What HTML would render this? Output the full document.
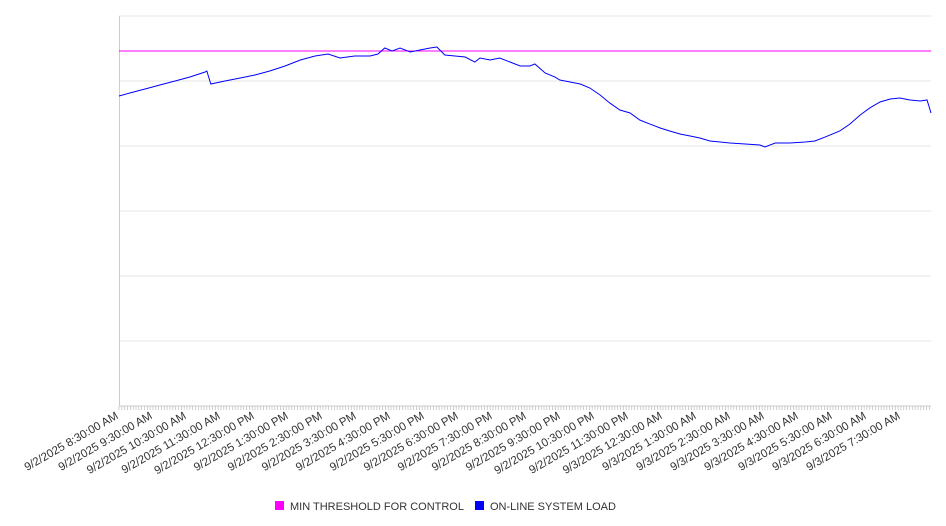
<!DOCTYPE html>
<html><head><meta charset="utf-8"><style>
body{margin:0;background:#fff;font-family:"Liberation Sans","DejaVu Sans",sans-serif}
</style></head><body>
<svg id="chart" width="946" height="526" style="display:block">
<g id="grid"></g><g id="ticks"></g><g id="labels"></g><g id="series"></g>
<g font-size="11" fill="#333">
 <g><rect x="275" y="501" width="9" height="9" fill="#ff00ff"/><text x="290" y="510">MIN THRESHOLD FOR CONTROL</text></g>
 <g><rect x="475" y="501" width="9" height="9" fill="#0000ff"/><text x="490" y="510">ON-LINE SYSTEM LOAD</text></g>
</g>
</svg>
<script>
const times=[0,19,46,72,99,125,152,155,162,187,214,240,266,293,320,346,369,390,416,443,457,469,482,496,514,531,549,561,575,593,611,628,637,655,672,690,708,725,734,752,769,778,796,814,831,849,866,884,902,919,937,955,972,990,1008,1025,1043,1061,1078,1105,1131,1140,1158,1184,1211,1228,1246,1272,1290,1308,1325,1343,1361,1378,1396,1414,1426,1433];
const loadValues=[4769,4815,4877,4938,5000,5062,5138,5154,4954,5000,5046,5092,5154,5231,5323,5385,5415,5354,5385,5385,5415,5508,5462,5508,5446,5477,5508,5523,5400,5385,5369,5292,5354,5323,5354,5292,5231,5231,5262,5123,5062,5015,4985,4954,4892,4785,4662,4554,4508,4400,4338,4277,4231,4185,4154,4123,4077,4062,4046,4031,4015,3985,4046,4046,4062,4077,4138,4231,4338,4477,4585,4677,4723,4738,4708,4692,4708,4508];
const thresholdValue=5462;
const yTicks=[0,1000,2000,3000,4000,5000,6000];
const xLabels=["9/2/2025 8:30:00 AM","9/2/2025 9:30:00 AM","9/2/2025 10:30:00 AM","9/2/2025 11:30:00 AM","9/2/2025 12:30:00 PM","9/2/2025 1:30:00 PM","9/2/2025 2:30:00 PM","9/2/2025 3:30:00 PM","9/2/2025 4:30:00 PM","9/2/2025 5:30:00 PM","9/2/2025 6:30:00 PM","9/2/2025 7:30:00 PM","9/2/2025 8:30:00 PM","9/2/2025 9:30:00 PM","9/2/2025 10:30:00 PM","9/2/2025 11:30:00 PM","9/3/2025 12:30:00 AM","9/3/2025 1:30:00 AM","9/3/2025 2:30:00 AM","9/3/2025 3:30:00 AM","9/3/2025 4:30:00 AM","9/3/2025 5:30:00 AM","9/3/2025 6:30:00 AM","9/3/2025 7:30:00 AM"];
const X0=119,X1=931,Y0=406,Y1=16,TMAX=1433,VMAX=6000;
const xs=t=>X0+(X1-X0)*t/TMAX, ys=v=>Y0-(Y0-Y1)*v/VMAX;
const NS="http://www.w3.org/2000/svg";
function mk(tag,parent,attrs){const e=document.createElementNS(NS,tag);for(const k in attrs)e.setAttribute(k,attrs[k]);document.getElementById(parent).appendChild(e);return e;}
yTicks.forEach(v=>{const l=mk('line','grid',{x1:X0,x2:X1,y1:ys(v),y2:ys(v),stroke:v===0?'#ccc':'#e6e6e6','stroke-width':1});

});
const ax=mk('line','grid',{x1:X0+0.5,x2:X0+0.5,y1:Y1,y2:Y0,stroke:'#ccc'});


for(let t=0;t<=TMAX;t+=5){const l=mk('line','ticks',{x1:xs(t),x2:xs(t),y1:Y0,y2:Y0+4,stroke:'#bbb','stroke-width':0.7});

}
xLabels.forEach((s,i)=>{const x=xs(i*60);const t=mk('text','labels',{x:x,y:Y0+12,'text-anchor':'end','font-size':'11.5',fill:'#333',transform:`rotate(-30 ${x} ${Y0+12})`});t.textContent=s;

});
const th=mk('line','series',{x1:X0,x2:X1,y1:ys(thresholdValue),y2:ys(thresholdValue),stroke:'#ff00ff','stroke-width':1});


const p=mk('polyline','series',{points:times.map((t,i)=>xs(t)+','+ys(loadValues[i])).join(' '),fill:'none',stroke:'#0000ff','stroke-width':1});


</script>
</body></html>
